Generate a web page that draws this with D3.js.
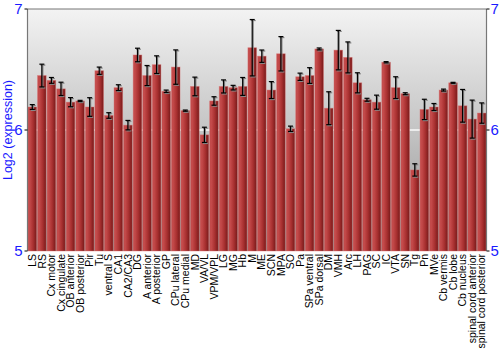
<!DOCTYPE html>
<html lang="en">
<head>
  <meta charset="UTF-8">
  <title>expression bars</title>
  <script src="https://cdn.jsdelivr.net/npm/d3@7"></script>
  <style type="text/css">
    body {
      margin: 0;
      background: #fff;
    }

    svg {
      font-family: "Liberation Sans", Arial, sans-serif;
    }

    .ylab {
      fill: #1a1aff;
      font-size: 15px;
    }

    .xlab {
      fill: #000;
      font-size: 10.5px;
    }
  </style>
</head>

<body>
  <script>
    var regions = ['LS', 'RS', 'Cx motor', 'Cx cingulate', 'OB anterior', 'OB posterior', 'Pir', 'Tu',
      'ventral S', 'CA1', 'CA2/CA3', 'DG', 'A anterior', 'A posterior', 'GP', 'CPu lateral',
      'CPu medial', 'MD', 'VA/VL', 'VPM/VPL', 'LG', 'MG', 'Hb', 'M', 'ME', 'SCN', 'MPA', 'SO',
      'Pa', 'SPa ventral', 'SPa dorsal', 'DM', 'VMH', 'Arc', 'LH', 'PAG', 'SC', 'IC', 'VTA',
      'SN', 'Tg', 'Pn', 'MVe', 'Cb vermis', 'Cb lobe', 'Cb nucleus', 'spinal cord anterior',
      'spinal cord posterior'];

    var means = [6.19, 6.45, 6.41, 6.34, 6.23, 6.24, 6.19, 6.49,
      6.12, 6.35, 6.04, 6.62, 6.45, 6.54, 6.32, 6.52,
      6.16, 6.36, 5.96, 6.24, 6.36, 6.35, 6.36, 6.68, 6.61, 6.33, 6.63, 6.01,
      6.44, 6.45, 6.67, 6.18, 6.66, 6.60, 6.39, 6.25, 6.23, 6.56, 6.35,
      6.30, 5.67, 6.17, 6.19, 6.33, 6.39, 6.20, 6.09,
      6.14];

    var errs = [0.02, 0.094, 0.024, 0.055, 0.038, 0.005, 0.077, 0.03,
      0.023, 0.024, 0.039, 0.056, 0.083, 0.073, 0.01, 0.142,
      0.005, 0.077, 0.063, 0.035, 0.054, 0.019, 0.074, 0.233, 0.051, 0.07, 0.142, 0.022,
      0.03, 0.065, 0.008, 0.136, 0.163, 0.128, 0.083, 0.012, 0.058, 0.005, 0.09,
      0.008, 0.051, 0.084, 0.029, 0.008, 0.004, 0.135, 0.157,
      0.084];

    var yTicks = [5, 6, 7];

    var w = 500;
    var h = 350;
    var mLeft = 27.5, mRight = 486.5, mTop = 9, mBottom = 251;

    var svg = d3.select('body')
      .append('svg')
      .attr('width', w)
      .attr('height', h);

    var defs = svg.append('defs');

    var bg = defs.append('linearGradient')
      .attr('id', 'bg')
      .attr('x1', 0).attr('y1', 0).attr('x2', 0).attr('y2', 1);
    bg.append('stop').attr('offset', '0%').attr('stop-color', '#f3f3f3');
    bg.append('stop').attr('offset', '50%').attr('stop-color', '#c4c4c4');
    bg.append('stop').attr('offset', '100%').attr('stop-color', '#8e8e8e');

    var barFill = defs.append('linearGradient')
      .attr('id', 'bar')
      .attr('x1', 0).attr('y1', 0).attr('x2', 1).attr('y2', 0);
    barFill.append('stop').attr('offset', '0%').attr('stop-color', '#c04a4a');
    barFill.append('stop').attr('offset', '20%').attr('stop-color', '#c44a4a');
    barFill.append('stop').attr('offset', '60%').attr('stop-color', '#a83030');
    barFill.append('stop').attr('offset', '100%').attr('stop-color', '#771a1a');

    var x = d3.scaleBand()
      .domain(regions)
      .range([mLeft, mRight])
      .paddingInner(0.1)
      .paddingOuter(0.05);

    var y = d3.scaleLinear()
      .domain([5, 7])
      .range([mBottom, mTop]);

    // background
    svg.append('rect')
      .attr('x', mLeft).attr('y', mTop)
      .attr('width', mRight - mLeft).attr('height', mBottom - mTop)
      .attr('fill', 'url(#bg)');

    // grid line at 6
    svg.append('line')
      .attr('x1', mLeft).attr('x2', mRight)
      .attr('y1', y(6)).attr('y2', y(6))
      .attr('stroke', '#fafafa')
      .attr('stroke-width', 1.5);

    var data = regions.map(function (r, i) {
      return { name: r, v: means[i], e: errs[i] };
    });

    svg.selectAll('rect.bar')
      .data(data)
      .enter()
      .append('rect')
      .attr('class', 'bar')
      .attr('x', function (d) { return x(d.name); })
      .attr('y', function (d) { return y(d.v); })
      .attr('width', x.bandwidth())
      .attr('height', function (d) { return mBottom - y(d.v); })
      .attr('fill', 'url(#bar)')
      .attr('stroke', 'rgba(220,110,110,0.5)')
      .attr('stroke-width', 0.8);

    // error bars: grey shadow then black
    [{ dx: 1, dy: 1, c: '#888' }, { dx: 0, dy: 0, c: '#000' }].forEach(function (s) {
      var g = svg.append('g').attr('transform', 'translate(' + s.dx + ',' + s.dy + ')');
      data.forEach(function (d) {
        var cx = x(d.name) + x.bandwidth() / 2;
        var y1 = y(d.v + d.e), y2 = y(d.v - d.e);
        g.append('line')
          .attr('x1', cx).attr('x2', cx).attr('y1', y1).attr('y2', y2)
          .attr('stroke', s.c).attr('stroke-width', 1.2);
        [y1, y2].forEach(function (yy) {
          g.append('line')
            .attr('x1', cx - 2.5).attr('x2', cx + 2.5).attr('y1', yy).attr('y2', yy)
            .attr('stroke', s.c).attr('stroke-width', 1.2);
        });
      });
    });

    // frame
    svg.append('line')
      .attr('x1', mLeft).attr('x2', mRight).attr('y1', mTop).attr('y2', mTop)
      .attr('stroke', '#777').attr('stroke-width', 1.2);
    svg.append('line')
      .attr('x1', mLeft).attr('x2', mLeft).attr('y1', mTop).attr('y2', mBottom)
      .attr('stroke', '#777').attr('stroke-width', 1.2);
    svg.append('line')
      .attr('x1', mRight).attr('x2', mRight).attr('y1', mTop).attr('y2', mBottom)
      .attr('stroke', '#777').attr('stroke-width', 1.2);

    // y ticks, both sides
    yTicks.forEach(function (t) {
      svg.append('line')
        .attr('x1', mLeft - 3).attr('x2', mLeft).attr('y1', y(t)).attr('y2', y(t))
        .attr('stroke', '#000');
      svg.append('line')
        .attr('x1', mRight).attr('x2', mRight + 3).attr('y1', y(t)).attr('y2', y(t))
        .attr('stroke', '#000');
      svg.append('text')
        .attr('class', 'ylab')
        .attr('x', mLeft - 5).attr('y', y(t))
        .attr('dy', '0.35em')
        .attr('text-anchor', 'end')
        .text(t);
      svg.append('text')
        .attr('class', 'ylab')
        .attr('x', mRight + 4).attr('y', y(t))
        .attr('dy', '0.35em')
        .text(t);
    });

    svg.append('text')
      .attr('class', 'ylab')
      .attr('transform', 'translate(12,' + ((mTop + mBottom) / 2) + ') rotate(-90)')
      .attr('text-anchor', 'middle')
      .style('font-size', '12.5px')
      .text('Log2 (expression)');

    // category labels
    svg.selectAll('text.xlab')
      .data(regions)
      .enter()
      .append('text')
      .attr('class', 'xlab')
      .attr('transform', function (d) {
        return 'translate(' + (x(d) + x.bandwidth() / 2) + ',' + (mBottom + 3) + ') rotate(-90)';
      })
      .attr('dy', '0.35em')
      .attr('text-anchor', 'end')
      .text(function (d) { return d; });
  </script>
</body>
</html>
